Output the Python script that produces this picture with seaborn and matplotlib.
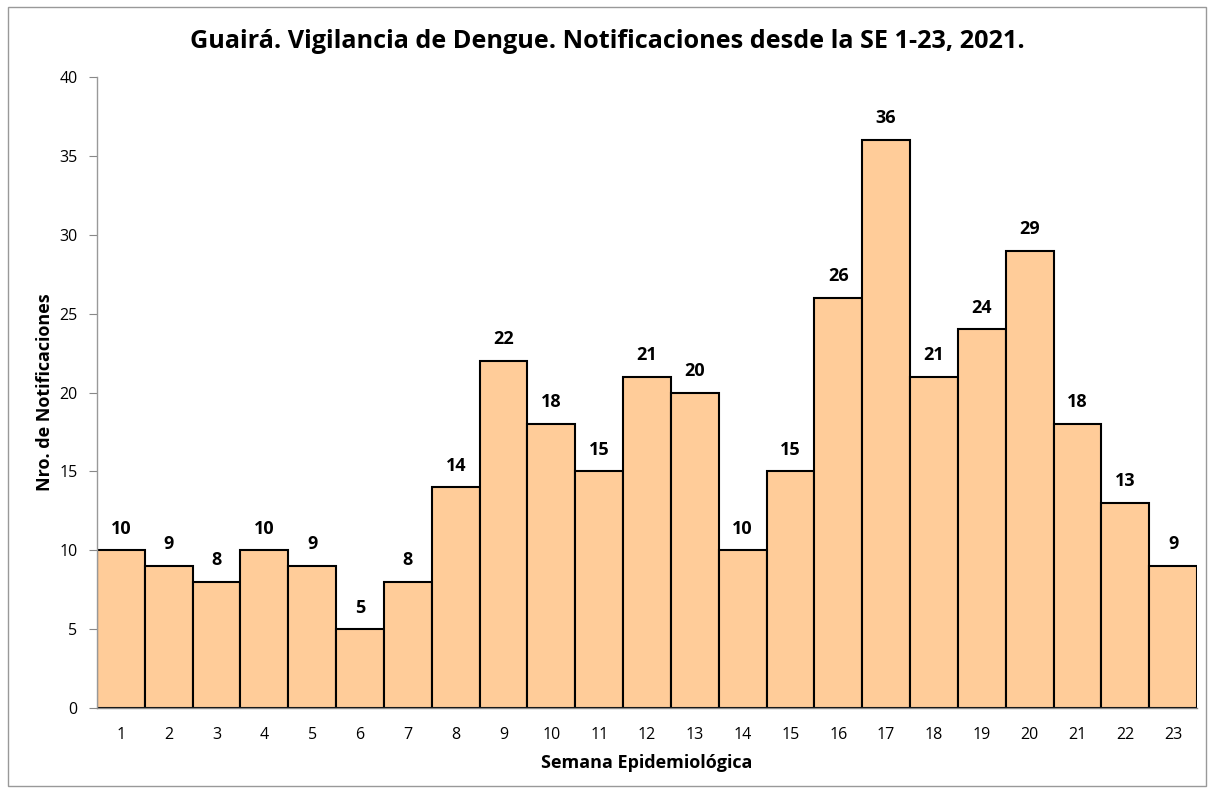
import numpy as np
import pandas as pd
import matplotlib
matplotlib.use("Agg")
import matplotlib.pyplot as plt
import seaborn as sns
from matplotlib.patches import Rectangle

semanas = [str(i) for i in range(1, 24)]
notificaciones = [10, 9, 8, 10, 9, 5, 8, 14, 22, 18, 15, 21, 20, 10, 15, 26, 36, 21, 24, 29, 18, 13, 9]

df = pd.DataFrame({"semana": semanas, "n": notificaciones})

sns.set_style("white")
plt.rcParams["font.family"] = ["Open Sans", "DejaVu Sans"]
plt.rcParams["text.color"] = "black"
plt.rcParams["axes.labelcolor"] = "black"
plt.rcParams["xtick.color"] = "black"
plt.rcParams["ytick.color"] = "black"

fig = plt.figure(figsize=(12.14, 7.92), dpi=100)
ax = fig.add_axes([0.0799, 0.106, 0.9061, 0.7968])

sns.barplot(data=df, x="semana", y="n", color="#FFCC99", saturation=1,
            width=1.0, edgecolor="black", linewidth=1.5, ax=ax)

for i, v in enumerate(notificaciones):
    ax.text(i, v + 0.8, str(v), ha="center", va="bottom",
            fontsize=13, fontweight="bold", color="black")

ax.set_ylim(0, 40)
ax.set_xlim(-0.5, len(semanas) - 0.5)
ax.set_yticks(range(0, 41, 5))
ax.tick_params(axis="y", which="both", left=True, length=6, color="#888888",
               labelsize=11.5, pad=8)
ax.tick_params(axis="x", bottom=False, labelsize=11.5, pad=10)
for s in ["top", "right"]:
    ax.spines[s].set_visible(False)
ax.spines["left"].set_color("#999999")
ax.spines["bottom"].set_color("#888888")
ax.spines["left"].set_linewidth(1)
ax.spines["bottom"].set_linewidth(1)

ax.set_xlabel("Semana Epidemiológica", fontsize=13, fontweight="bold", labelpad=8)
ax.set_ylabel("Nro. de Notificaciones", fontsize=13, fontweight="bold", labelpad=4)

fig.text(0.5, 0.947, "Guairá. Vigilancia de Dengue. Notificaciones desde la SE 1-23, 2021.",
         ha="center", va="center", fontsize=18.2, fontweight="bold")

fig.patches.append(Rectangle((8 / 1214, 1 - 786 / 792), 1198 / 1214, 779 / 792,
                             transform=fig.transFigure, fill=False,
                             edgecolor="#999999", linewidth=1))

fig.savefig("out.png", dpi=100)
